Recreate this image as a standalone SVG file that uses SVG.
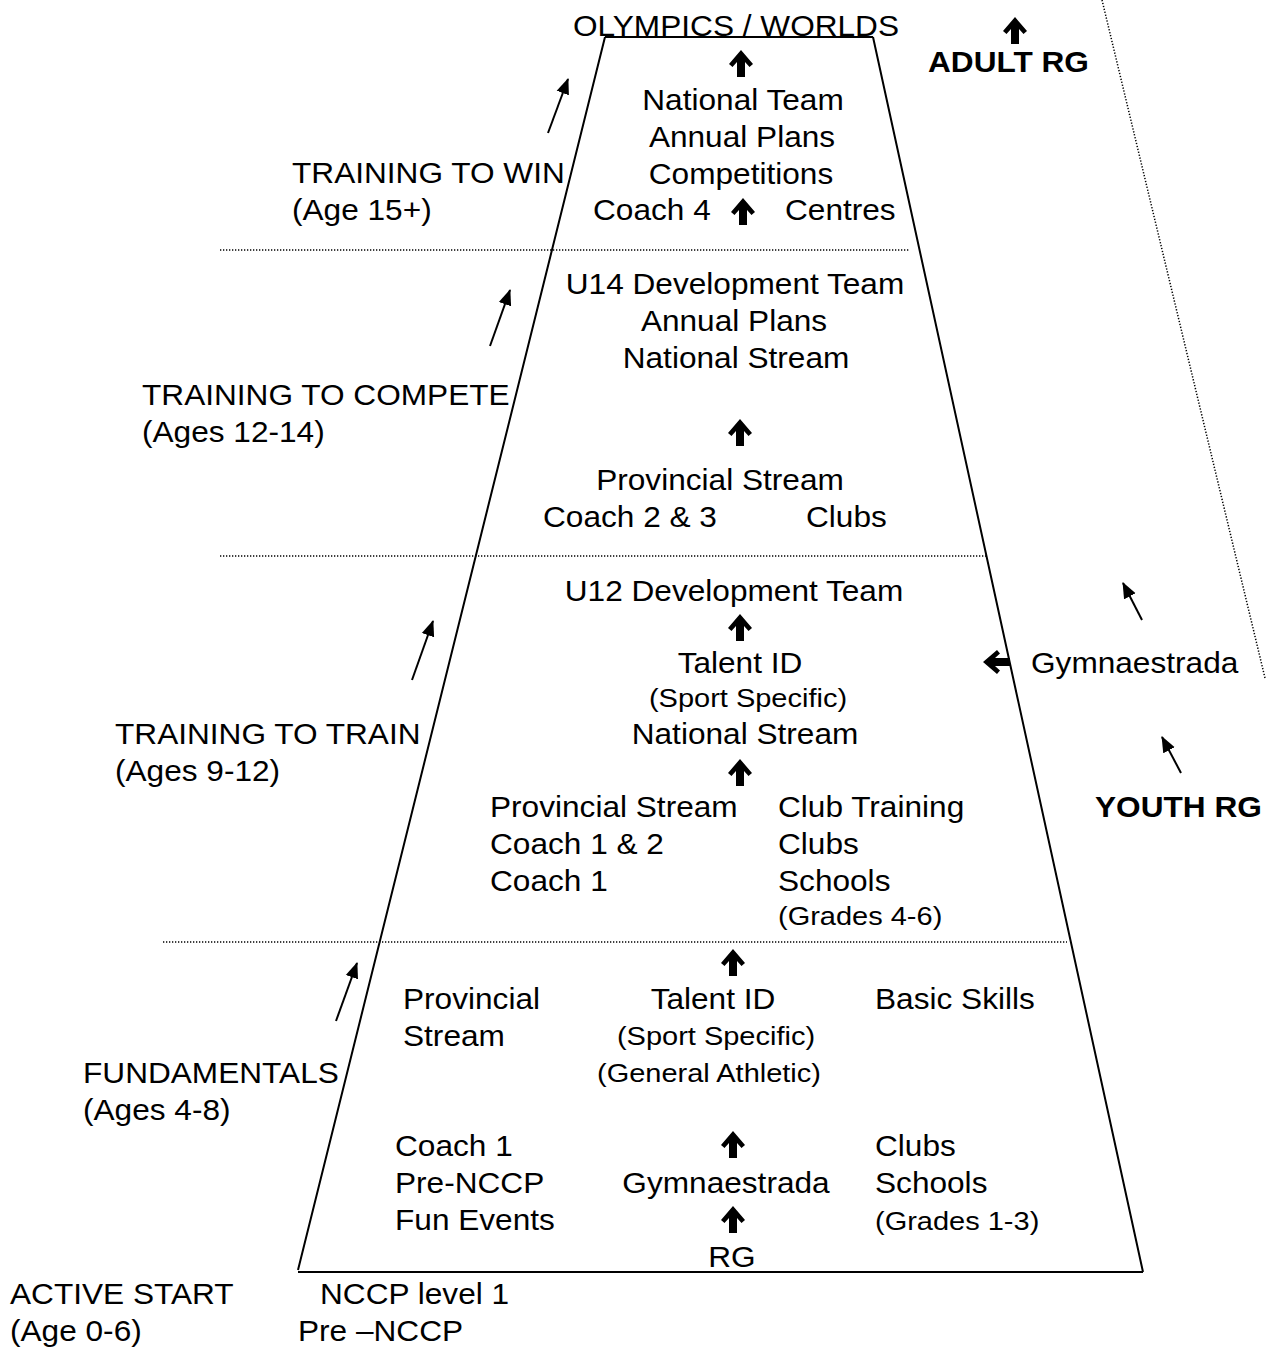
<svg xmlns="http://www.w3.org/2000/svg" width="1266" height="1347" viewBox="0 0 1266 1347">
<style>
.t{font-family:"Liberation Sans",Arial,sans-serif;font-size:29px;fill:#000}
.s{font-size:26.6px}
.b{font-weight:bold}
.m{text-anchor:middle}
.edge{stroke:#000;stroke-width:2;fill:none}
.dot{stroke:#000;stroke-width:1.5;stroke-dasharray:1.3 1.7;fill:none}
.thin{stroke:#000;stroke-width:2;fill:none;marker-end:url(#ah)}
</style>
<defs>
<marker id="ah" markerUnits="userSpaceOnUse" markerWidth="16" markerHeight="14" refX="15" refY="6.5" orient="auto" viewBox="0 0 16 13">
<path d="M0,0 L16,6.5 L0,13 Z" fill="#000"/>
</marker>
<path id="ua" d="M0,0 L12,14 L8.5,17 L4,12 L4,27 L-4,27 L-4,12 L-8.5,17 L-12,14 Z" fill="#000"/>
</defs>
<rect width="1266" height="1347" fill="#fff"/>

<g id="pyramid">
<path class="edge" d="M605,37 L873,37 M605,37 L298,1270 M873,37 L1143,1272 M298,1272 L1143,1272"/>
</g>

<g id="dividers">
<line class="dot" x1="220" y1="250" x2="910" y2="250"/>
<line class="dot" x1="220" y1="556" x2="987" y2="556"/>
<line class="dot" x1="163" y1="942" x2="1067" y2="942"/>
<line class="dot" x1="1102" y1="0" x2="1265" y2="678"/>
</g>

<g id="connectors">
<line class="thin" x1="548" y1="133" x2="568" y2="79"/>
<line class="thin" x1="490" y1="346" x2="510" y2="290"/>
<line class="thin" x1="412" y1="680" x2="433" y2="621"/>
<line class="thin" x1="336" y1="1021" x2="357" y2="963"/>
<line class="thin" x1="1142" y1="620" x2="1123" y2="583"/>
<line class="thin" x1="1181" y1="773" x2="1162" y2="737"/>
<use href="#ua" transform="translate(1015,17)"/>
<use href="#ua" transform="translate(741,50)"/>
<use href="#ua" transform="translate(743,198)"/>
<use href="#ua" transform="translate(740,419)"/>
<use href="#ua" transform="translate(740,614)"/>
<use href="#ua" transform="translate(740,759)"/>
<use href="#ua" transform="translate(733,949)"/>
<use href="#ua" transform="translate(733,1131)"/>
<use href="#ua" transform="translate(733,1206)"/>
<use href="#ua" transform="translate(983,662) rotate(-90)"/>
</g>

<g id="top">
<text class="t m" transform="translate(736,36) scale(1.09,1)">OLYMPICS / WORLDS</text>
<text class="t b" transform="translate(928,72) scale(1.09,1)">ADULT RG</text>
</g>

<g id="level-win">
<text class="t m" transform="translate(743,110) scale(1.09,1)">National Team</text>
<text class="t m" transform="translate(742,147) scale(1.09,1)">Annual Plans</text>
<text class="t m" transform="translate(741,184) scale(1.09,1)">Competitions</text>
<text class="t" transform="translate(593,220) scale(1.09,1)">Coach 4</text>
<text class="t" transform="translate(785,220) scale(1.09,1)">Centres</text>
<text class="t" transform="translate(292,183) scale(1.09,1)">TRAINING TO WIN</text>
<text class="t" transform="translate(292,220) scale(1.09,1)">(Age 15+)</text>
</g>

<g id="level-compete">
<text class="t m" transform="translate(735,294) scale(1.09,1)">U14 Development Team</text>
<text class="t m" transform="translate(734,331) scale(1.09,1)">Annual Plans</text>
<text class="t m" transform="translate(736,368) scale(1.09,1)">National Stream</text>
<text class="t" transform="translate(142,405) scale(1.09,1)">TRAINING TO COMPETE</text>
<text class="t" transform="translate(142,442) scale(1.09,1)">(Ages 12-14)</text>
<text class="t m" transform="translate(720,490) scale(1.09,1)">Provincial Stream</text>
<text class="t" transform="translate(543,527) scale(1.09,1)">Coach 2 &amp; 3</text>
<text class="t" transform="translate(806,527) scale(1.09,1)">Clubs</text>
</g>

<g id="level-train">
<text class="t m" transform="translate(734,601) scale(1.09,1)">U12 Development Team</text>
<text class="t m" transform="translate(740,673) scale(1.09,1)">Talent ID</text>
<text class="t s m" transform="translate(748,707) scale(1.09,1)">(Sport Specific)</text>
<text class="t m" transform="translate(745,744) scale(1.09,1)">National Stream</text>
<text class="t" transform="translate(1031,673) scale(1.09,1)">Gymnaestrada</text>
<text class="t b" transform="translate(1095,817) scale(1.09,1)">YOUTH RG</text>
<text class="t" transform="translate(115,744) scale(1.09,1)">TRAINING TO TRAIN</text>
<text class="t" transform="translate(115,781) scale(1.09,1)">(Ages 9-12)</text>
<text class="t" transform="translate(490,817) scale(1.09,1)">Provincial Stream</text>
<text class="t" transform="translate(490,854) scale(1.09,1)">Coach 1 &amp; 2</text>
<text class="t" transform="translate(490,891) scale(1.09,1)">Coach 1</text>
<text class="t" transform="translate(778,817) scale(1.09,1)">Club Training</text>
<text class="t" transform="translate(778,854) scale(1.09,1)">Clubs</text>
<text class="t" transform="translate(778,891) scale(1.09,1)">Schools</text>
<text class="t s" transform="translate(778,925) scale(1.09,1)">(Grades 4-6)</text>
</g>

<g id="level-fundamentals">
<text class="t" transform="translate(403,1009) scale(1.09,1)">Provincial</text>
<text class="t" transform="translate(403,1046) scale(1.09,1)">Stream</text>
<text class="t m" transform="translate(713,1009) scale(1.09,1)">Talent ID</text>
<text class="t s m" transform="translate(716,1045) scale(1.09,1)">(Sport Specific)</text>
<text class="t s m" transform="translate(709,1082) scale(1.09,1)">(General Athletic)</text>
<text class="t" transform="translate(875,1009) scale(1.09,1)">Basic Skills</text>
<text class="t" transform="translate(83,1083) scale(1.09,1)">FUNDAMENTALS</text>
<text class="t" transform="translate(83,1120) scale(1.09,1)">(Ages 4-8)</text>
<text class="t" transform="translate(395,1156) scale(1.09,1)">Coach 1</text>
<text class="t" transform="translate(395,1193) scale(1.09,1)">Pre-NCCP</text>
<text class="t" transform="translate(395,1230) scale(1.09,1)">Fun Events</text>
<text class="t m" transform="translate(726,1193) scale(1.09,1)">Gymnaestrada</text>
<text class="t m" transform="translate(732,1267) scale(1.09,1)">RG</text>
<text class="t" transform="translate(875,1156) scale(1.09,1)">Clubs</text>
<text class="t" transform="translate(875,1193) scale(1.09,1)">Schools</text>
<text class="t s" transform="translate(875,1230) scale(1.09,1)">(Grades 1-3)</text>
</g>

<g id="active-start">
<text class="t" transform="translate(10,1304) scale(1.09,1)">ACTIVE START</text>
<text class="t" transform="translate(10,1341) scale(1.09,1)">(Age 0-6)</text>
<text class="t" transform="translate(320,1304) scale(1.09,1)">NCCP level 1</text>
<text class="t" transform="translate(298,1341) scale(1.09,1)">Pre –NCCP</text>
</g>
</svg>
